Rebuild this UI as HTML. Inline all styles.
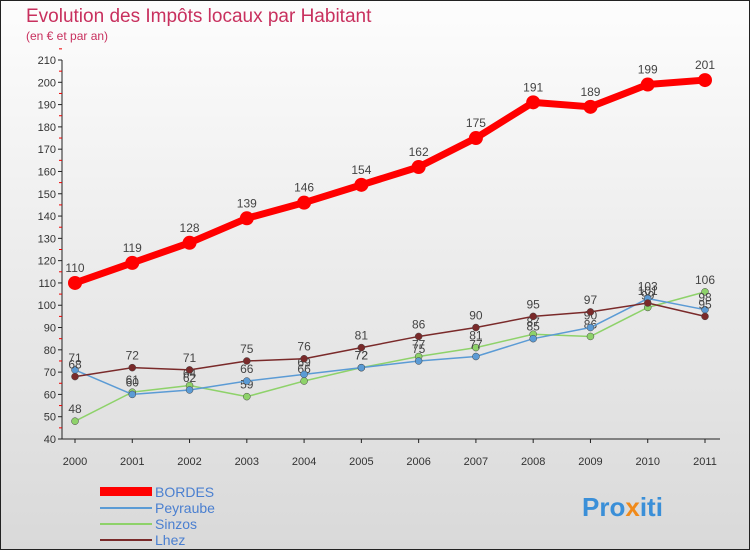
<!DOCTYPE html>
<html><head><meta charset="utf-8"><style>
body{margin:0;width:750px;height:550px;overflow:hidden;font-family:"Liberation Sans",sans-serif}
</style></head><body>
<svg width="750" height="550" id="svg" xmlns="http://www.w3.org/2000/svg">
<defs><linearGradient id="bg" x1="0" y1="0" x2="0" y2="1"><stop offset="0" stop-color="#fdfdfd"/><stop offset="1" stop-color="#d9d9d9"/></linearGradient></defs>
<rect x="0.5" y="0.5" width="749" height="549" fill="url(#bg)" stroke="#222"/>
<text x="26" y="22" font-size="19" fill="#c8305e">Evolution des Impôts locaux par Habitant</text>
<text x="26" y="40" font-size="12" fill="#c8305e">(en € et par an)</text>
<g id="axes"></g><g id="series"></g>
<g>
<rect x="100" y="487" width="52" height="9" fill="#ff0000"/><text x="155" y="497" font-size="14" fill="#4a7fd0">BORDES</text>
<line x1="100" y1="508" x2="152" y2="508" stroke="#5b9bd5" stroke-width="2"/><text x="155" y="513" font-size="14" fill="#4a7fd0">Peyraube</text>
<line x1="100" y1="524" x2="152" y2="524" stroke="#8ed26a" stroke-width="2"/><text x="155" y="529" font-size="14" fill="#4a7fd0">Sinzos</text>
<line x1="100" y1="540" x2="152" y2="540" stroke="#7a2a2a" stroke-width="2"/><text x="155" y="545" font-size="14" fill="#4a7fd0">Lhez</text>
</g>
<text x="582" y="516" font-size="26" font-weight="bold" fill="#3a8fd8">Pro<tspan fill="#f08a1a">x</tspan>iti</text>
</svg>
<script>
const years=["2000","2001","2002","2003","2004","2005","2006","2007","2008","2009","2010","2011"];
const bordes=[110,119,128,139,146,154,162,175,191,189,199,201];
const peyraube=[71,60,62,66,69,72,75,77,85,90,103,98];
const sinzos=[48,61,64,59,66,72,77,81,87,86,99,106];
const lhez=[68,72,71,75,76,81,86,90,95,97,101,95];
const yTicks=[40,50,60,70,80,90,100,110,120,130,140,150,160,170,180,190,200,210];
const NS="http://www.w3.org/2000/svg";
const x=i=>75+i*(630/11), y=v=>439-(v-40)*(379/170);
function el(t,a,p){const e=document.createElementNS(NS,t);for(const k in a)e.setAttribute(k,a[k]);p.appendChild(e);return e;}
const ax=document.getElementById('axes'), sg=document.getElementById('series');
const yl=el('line',{x1:62,y1:60,x2:62,y2:439,stroke:'#222'},ax);

const xl=el('line',{x1:62,y1:439,x2:720,y2:439,stroke:'#222'},ax);

yTicks.forEach(v=>{el('line',{x1:58,y1:y(v),x2:62,y2:y(v),stroke:'#222'},ax);
el('line',{x1:59,y1:y(v+5),x2:62,y2:y(v+5),stroke:'#e00'},ax);
const t=el('text',{x:56,y:y(v)+4,'text-anchor':'end','font-size':11,fill:'#333'},ax);t.textContent=v;
});
years.forEach((yr,i)=>{el('line',{x1:x(i),y1:439,x2:x(i),y2:443,stroke:'#222'},ax);
const t=el('text',{x:x(i),y:465,'text-anchor':'middle','font-size':11,fill:'#333'},ax);t.textContent=yr;
});
function series(d,col,w,r,name,lab){const g=el('g',{},sg);

el('polyline',{points:d.map((v,i)=>x(i)+','+y(v)).join(' '),fill:'none',stroke:col,'stroke-width':w,'stroke-linejoin':'round'},g);
d.forEach((v,i)=>{const c=el('circle',{cx:x(i),cy:y(v),r:r,fill:col,stroke:r>4?'none':'#444','stroke-width':0.5},g);

const t=el('text',{x:x(i),y:y(v)-(r>4?11:8),'text-anchor':'middle','font-size':lab,fill:'#444'},g);t.textContent=v;
});}
series(sinzos,'#8ed26a',1.5,3.5,'sinzos',12);
series(peyraube,'#5b9bd5',1.5,3.5,'peyraube',12);
series(lhez,'#7a2a2a',1.5,3.5,'lhez',12);
series(bordes,'#ff0000',7,7,'bordes',12);
</script>
</body></html>
